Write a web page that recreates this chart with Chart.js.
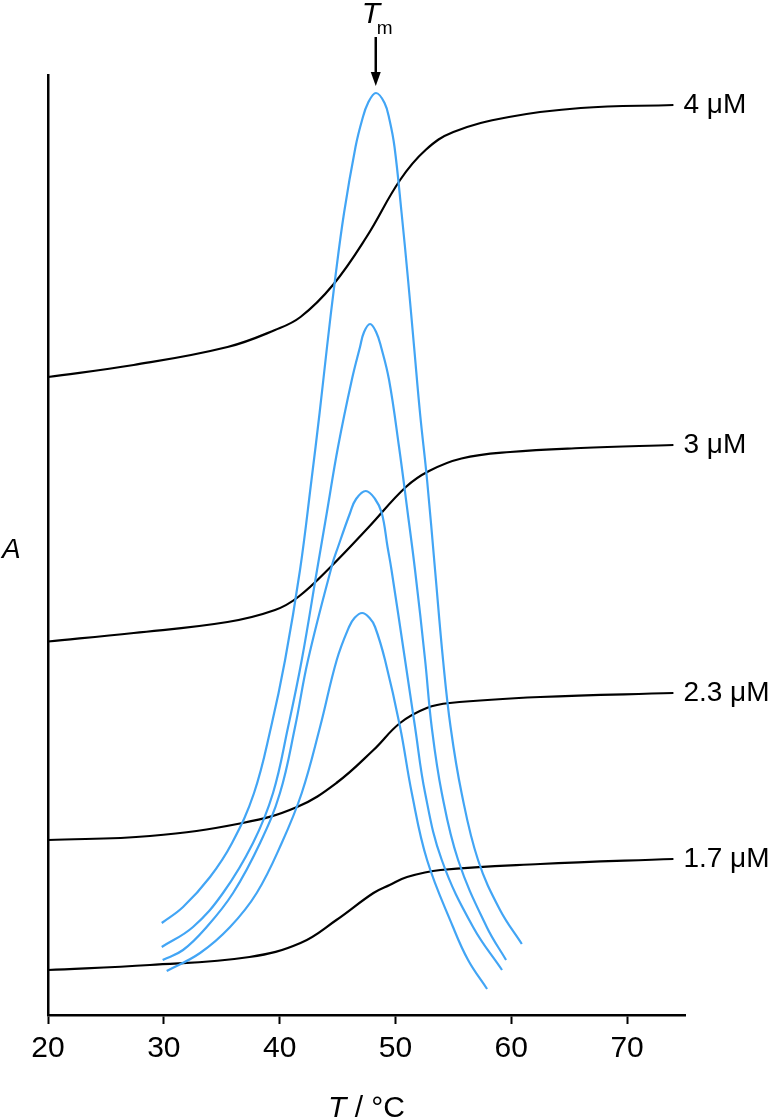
<!DOCTYPE html>
<html>
<head>
<meta charset="utf-8">
<script src="https://cdn.jsdelivr.net/npm/chart.js@4.4.1/dist/chart.umd.min.js"></script>
<style>
  body { margin: 0; background: #fff; }
  #wrap { width: 773px; height: 1118px; }
</style>
</head>
<body>
<div id="wrap"><canvas id="meltChart"></canvas></div>
<script>
// melting curves (black), absorbance in arbitrary units
const t4 = [20, 27.4, 35.5, 39.6, 41.8, 44.6, 47.5, 50.4, 52.6, 55.0, 59.8, 66, 74];
const a4 = [63.8, 65.0, 66.8, 68.5, 69.8, 73.0, 77.8, 83.5, 86.5, 88.3, 89.8, 90.7, 91.0];
const t3 = [20, 27.4, 35.5, 39.6, 41.6, 44.4, 47.7, 50.9, 52.9, 55.7, 59.9, 66, 74];
const a3 = [37.35, 38.2, 39.3, 40.5, 41.8, 44.8, 48.8, 52.8, 54.4, 55.65, 56.3, 56.7, 57.0];
const t23 = [20, 28.8, 36.8, 41.5, 44.9, 48.1, 50.4, 52.7, 54.7, 62.5, 74];
const a23 = [17.5, 17.9, 19.2, 20.8, 23.2, 26.5, 29.2, 30.7, 31.2, 31.8, 32.2];
const t17 = [20, 28.8, 37.4, 41.8, 44.9, 48.1, 49.5, 51, 53.9, 62.5, 74];
const a17 = [4.5, 5.0, 5.8, 7.2, 9.5, 12.2, 13.0, 13.8, 14.5, 15.1, 15.6];
const concLabels = ['4 μM', '3 μM', '2.3 μM', '1.7 μM'];

// first derivative peaks (blue)
const p1T = [29.82, 31.66, 33.99, 35.89, 37.79, 39.26, 40.47, 41.76, 42.75, 43.45, 44.09, 44.78, 45.56, 46.55, 47.12, 47.63, 48.32, 49.06, 49.49, 49.92, 50.53, 51.09, 51.61, 52.12, 52.73, 53.42, 54.11, 54.76, 55.71, 57.13, 59.03, 60.91];
const p1A = [9.2, 10.8, 13.8, 17.2, 22.2, 28.8, 35.5, 44.5, 53.5, 60.2, 66.8, 73.5, 80.2, 86.8, 89.5, 91.2, 92.2, 91.2, 89.5, 86.8, 80.2, 73.5, 66.8, 60.2, 53.5, 44.5, 35.5, 28.8, 22.2, 15.5, 10.5, 7.1];
const p2T = [29.82, 32.52, 35.11, 37.70, 39.43, 40.73, 41.91, 43.23, 44.07, 45.04, 46.23, 46.94, 47.29, 47.81, 48.33, 48.76, 49.45, 50.31, 51.06, 51.69, 52.56, 53.13, 54.0, 55.41, 57.88, 59.55];
const p2A = [6.8, 8.8, 12.2, 17.2, 22.2, 28.8, 35.5, 44.5, 50.2, 56.8, 63.5, 66.8, 68.3, 69.1, 68.3, 66.8, 63.5, 56.8, 50.2, 44.5, 35.5, 28.8, 22.2, 15.5, 8.8, 5.5];
const p3T = [29.9, 31.66, 33.7, 35.98, 38.31, 40.03, 41.33, 42.45, 44.53, 45.04, 46.08, 46.6, 47.44, 48.24, 48.82, 49.32, 49.66, 50.83, 51.69, 52.56, 54.0, 56.7, 59.2];
const p3A = [5.5, 6.5, 8.8, 12.2, 17.2, 22.2, 28.8, 35.5, 45.0, 46.8, 50.2, 51.6, 52.4, 51.6, 50.2, 46.8, 44.5, 35.5, 28.8, 22.2, 15.5, 8.8, 4.5];
const p4T = [30.25, 33.13, 35.72, 38.02, 40.18, 41.91, 43.49, 44.93, 45.99, 46.46, 47.12, 47.77, 48.24, 49.1, 50.4, 51.41, 52.73, 54.97, 56.27, 57.91];
const p4A = [4.4, 6.2, 8.8, 12.2, 17.2, 22.2, 28.8, 35.5, 38.8, 39.7, 40.2, 39.7, 38.8, 35.5, 28.8, 22.2, 15.5, 8.8, 5.5, 2.6];

const tmT = 48.3;

const FONT = '"Liberation Sans", Arial, sans-serif';
const BLUE = '#42A5F5';

function pts(xs, ys) {
    return xs.map((x, i) => ({ x: x, y: ys[i] }));
}

function curve(xs, ys, color) {
    return {
        data: pts(xs, ys),
        borderColor: color,
        borderWidth: 2.2,
        pointRadius: 0,
        fill: false,
        tension: 0.4
    };
}

// blue first so they sit on top of the black lines
const datasets = [
    curve(p1T, p1A, BLUE),
    curve(p2T, p2A, BLUE),
    curve(p3T, p3A, BLUE),
    curve(p4T, p4A, BLUE),
    curve(t4, a4, '#000'),
    curve(t3, a3, '#000'),
    curve(t23, a23, '#000'),
    curve(t17, a17, '#000')
];
const blackSets = [4, 5, 6, 7];

const annotate = {
    id: 'annotate',
    afterDraw(chart) {
        const ctx = chart.ctx;
        const xs = chart.scales.x;
        ctx.save();
        ctx.fillStyle = '#000';
        ctx.strokeStyle = '#000';

        // concentration labels next to line ends
        ctx.font = '28px ' + FONT;
        ctx.textAlign = 'left';
        ctx.textBaseline = 'alphabetic';
        blackSets.forEach((idx, i) => {
            const meta = chart.getDatasetMeta(idx);
            const pt = meta.data[meta.data.length - 1];
            ctx.fillText(concLabels[i], pt.x + 10, pt.y + 8);
        });

        // Tm arrow
        const ax = xs.getPixelForValue(tmT);
        ctx.lineWidth = 2.5;
        ctx.beginPath();
        ctx.moveTo(ax, 37);
        ctx.lineTo(ax, 74);
        ctx.stroke();
        ctx.beginPath();
        ctx.moveTo(ax - 5, 72);
        ctx.lineTo(ax + 5, 72);
        ctx.lineTo(ax, 86);
        ctx.closePath();
        ctx.fill();
        ctx.font = 'italic 30px ' + FONT;
        ctx.fillText('T', ax - 14, 23);
        ctx.font = '19px ' + FONT;
        ctx.fillText('m', ax + 1, 34);

        // y axis label
        ctx.font = 'italic 28px ' + FONT;
        ctx.fillText('A', 2, 558);

        // x axis title
        const cx = (chart.chartArea.left + chart.chartArea.right) / 2;
        ctx.font = 'italic 30px ' + FONT;
        const w1 = ctx.measureText('T').width;
        ctx.font = '30px ' + FONT;
        const w2 = ctx.measureText(' / °C').width;
        const x0 = cx - (w1 + w2) / 2;
        ctx.font = 'italic 30px ' + FONT;
        ctx.fillText('T', x0, 1117);
        ctx.font = '30px ' + FONT;
        ctx.fillText(' / °C', x0 + w1, 1117);
        ctx.restore();
    }
};

const chartOptions = {
    responsive: true,
    maintainAspectRatio: false,
    animation: false,
    layout: { padding: { top: 75, right: 88, left: 0, bottom: 0 } },
    plugins: { legend: { display: false }, tooltip: { enabled: false } },
    scales: {
        x: {
            type: 'linear',
            min: 20,
            max: 75,
            ticks: {
                stepSize: 10,
                includeBounds: false,
                autoSkip: false,
                maxRotation: 0,
                color: '#000',
                padding: 7,
                font: { family: FONT, size: 30 }
            },
            grid: {
                drawOnChartArea: false,
                drawTicks: true,
                tickLength: 9,
                tickWidth: 2,
                tickColor: '#000'
            },
            border: { display: true, color: '#000', width: 2.5 },
            afterFit: s => { s.height = 103; }
        },
        y: {
            min: 0,
            max: 94,
            ticks: { display: false },
            grid: { drawOnChartArea: false, drawTicks: false },
            border: { display: true, color: '#000', width: 2.5 },
            afterFit: s => { s.width = 48; }
        }
    }
};

const ctx = document.getElementById('meltChart').getContext('2d');
const meltChart = new Chart(ctx, {
    type: 'line',
    data: { datasets: datasets },
    options: chartOptions,
    plugins: [annotate]
});
</script>
</body>
</html>
